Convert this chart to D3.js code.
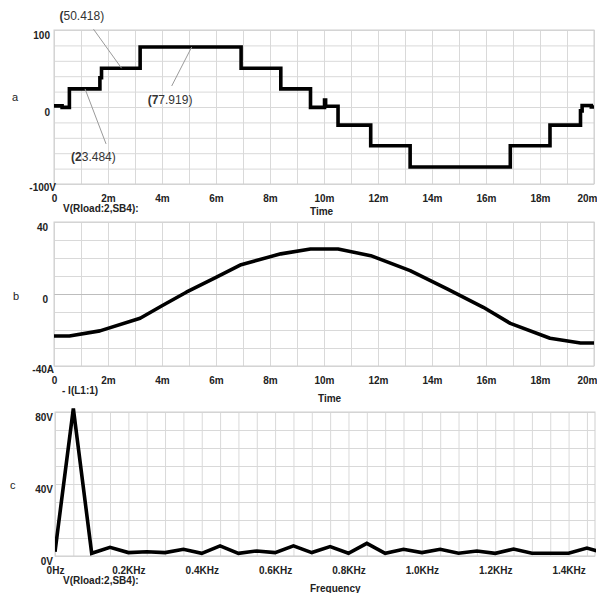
<html><head>
<meta charset="utf-8">
<title>pspice plots</title>
<script src="https://cdn.jsdelivr.net/npm/d3@7/dist/d3.min.js"></script>
<style>
  body { margin: 0; background: #fff; }
  svg { display: block; font-family: "Liberation Sans", Arial, sans-serif; }
  .grid line { stroke: #d9d9d9; stroke-width: 1; }
  .grid path { stroke: none; }
  .frame { fill: none; stroke: #cfcfcf; stroke-width: 1; }
  .tick-lbl text { font-size: 10px; font-weight: bold; fill: #222; }
  .tick-lbl path, .tick-lbl line { stroke: none; }
  .trace { fill: none; stroke: #000; stroke-width: 3.6; }
  .axis-name { font-size: 10px; font-weight: bold; fill: #222; }
  .panel-id { font-size: 11px; fill: #222; }
  .leader { stroke: #9a9a9a; stroke-width: 1; }
  .annot { font-size: 12px; fill: #333; }
</style>
</head>
<body>
<svg id="chart" width="597" height="593"></svg>

<script>
// ---- data ----

// (a) inverter output voltage, staircase (time in ms, volts)
var stepTimes = [0, 0.30, 0.57, 1.70, 1.76, 3.19, 6.93, 8.40, 9.50, 10.02, 10.06, 10.52, 11.73, 13.19, 16.90, 18.37, 19.50, 19.56, 19.90, 20];
var stepVolts = [1.5, -0.5, 23.484, 38, 50.418, 77.919, 50.418, 23.484, -0.5, 9, 1, -23.484, -50.418, -77.919, -50.418, -23.484, -5, 2, 0, 0];

// labelled levels on plot (a)
var annotValues = [50.418, 77.919, 23.484];
var annotTimes = [2.5, 5.1, 1.15];

// (b) load current (time in ms, amps)
var curTimes = [0, 0.57, 1.70, 3.19, 4.0, 4.9, 6.0, 6.93, 8.40, 9.50, 10.52, 11.73, 13.19, 14.56, 15.9, 16.90, 18.37, 19.50, 20];
var curAmps  = [-23.3, -23.3, -20.5, -13.5, -6.5, 1, 9.2, 16.3, 22.3, 25, 25, 21.3, 13, 2.8, -7.4, -16.3, -24.6, -27.2, -27.2];

// (c) spectrum of the output voltage (Hz, volts)
var freqs = [0, 50, 100, 150, 200, 250, 300, 350, 400, 450, 500, 550, 600, 650, 700, 750,
             800, 850, 900, 950, 1000, 1050, 1100, 1150, 1200, 1250, 1300, 1350, 1400, 1450, 1500];
var amps  = [2.4, 82, 1.5, 4.8, 1.9, 2.4, 1.9, 3.7, 1.5, 5.6, 1.5, 2.8, 1.9, 5.6, 1.9, 5.2,
             1.5, 7, 1.5, 3.7, 1.9, 3.7, 1.5, 2.8, 1.5, 3.9, 1.5, 1.5, 1.5, 4.4, 1.5];

// tick labels
var timeTicks = [0, 2, 4, 6, 8, 10, 12, 14, 16, 18, 20];
var freqTicks = [0, 200, 400, 600, 800, 1000, 1200, 1400];
var voltTicksA = [100, 0, -100];
var ampTicksB = [40, 0, -40];
var voltTicksC = [80, 40, 0];

// ---- layout ----
var svg = d3.select("#chart");

var xTime = d3.scaleLinear().domain([0, 20]).range([54, 594]);
var xFreq = d3.scaleLinear().domain([0, 1472]).range([55, 595]);

var panels = [
  { id: "a", x: xTime, y: d3.scaleLinear().domain([-100, 100]).range([184, 30]),
    xGrid: d3.range(0, 21, 1), yGrid: d3.range(-100, 101, 20),
    xTicks: timeTicks, xFmt: function(d) { return d === 0 ? "0" : d + "m"; },
    yTicks: voltTicksA, unit: "V", numEnd: 50,
    idPos: [12, 101], nameL: "V(Rload:2,SB4):", nameLPos: [63, 212],
    nameR: "Time", nameRPos: [310, 215] },
  { id: "b", x: xTime, y: d3.scaleLinear().domain([-40, 40]).range([366, 222]),
    xGrid: d3.range(0, 21, 1), yGrid: d3.range(-40, 41, 10),
    xTicks: timeTicks, xFmt: function(d) { return d === 0 ? "0" : d + "m"; },
    yTicks: ampTicksB, unit: "A", numEnd: 48,
    idPos: [13, 300], nameL: "- I(L1:1)", nameLPos: [62, 394],
    nameR: "Time", nameRPos: [318, 402] },
  { id: "c", x: xFreq, y: d3.scaleLinear().domain([0, 80]).range([556, 412]),
    xGrid: d3.range(0, 1451, 50), yGrid: d3.range(0, 81, 10),
    xTicks: freqTicks, xFmt: function(d) { return d === 0 ? "0Hz" : d3.format(".1f")(d / 1000) + "KHz"; },
    yTicks: voltTicksC, unit: "V", numEnd: 46, allUnits: true,
    idPos: [10, 489], nameL: "V(Rload:2,SB4):", nameLPos: [63, 584],
    nameR: "Frequency", nameRPos: [310, 592] }
];

panels.forEach(function(p) {
  var g = svg.append("g");
  var x0 = p.x.range()[0], x1 = p.x.range()[1];
  var yb = p.y.range()[0], yt = p.y.range()[1];

  // grid
  var vg = g.append("g").attr("class", "grid").attr("transform", "translate(0," + yb + ")");
  d3.axisBottom(p.x).tickValues(p.xGrid).tickSize(-(yb - yt)).tickFormat("")(vg);
  var hg = g.append("g").attr("class", "grid").attr("transform", "translate(" + x0 + ",0)");
  d3.axisLeft(p.y).tickValues(p.yGrid).tickSize(-(x1 - x0)).tickFormat("")(hg);
  if (p.id === "b") {
    hg.selectAll(".tick line").filter(function(d) { return d === 0; }).style("stroke", "#bdbdbd");
  }
  g.append("rect").attr("class", "frame")
    .attr("x", x0).attr("y", yt).attr("width", x1 - x0).attr("height", yb - yt);

  // x tick labels
  var xl = g.append("g").attr("class", "tick-lbl").attr("transform", "translate(0," + yb + ")");
  d3.axisBottom(p.x).tickValues(p.xTicks).tickSize(0).tickPadding(11).tickFormat(p.xFmt)(xl);
  // keep the last label ("20m") inside the page
  xl.selectAll(".tick text").filter(function(d) { return p.x(d) + 10 > 597; })
    .attr("text-anchor", "end").attr("x", function(d) { return 597 - p.x(d); });

  // y tick labels: number right aligned, unit hanging on the bottom one
  var yl = g.append("g").attr("class", "tick-lbl");
  yl.selectAll("text").data(p.yTicks).join("text")
    .attr("x", function(d, i) {
      var hasUnit = p.allUnits || i === p.yTicks.length - 1;
      return p.allUnits ? p.numEnd + 7 : (hasUnit ? p.numEnd + 6 : p.numEnd);
    })
    .attr("y", function(d, i) {
      var last = i === p.yTicks.length - 1 && !p.allUnits;
      return p.y(d) + (last ? 0 : 2);
    })
    .attr("dy", "0.71em")
    .attr("text-anchor", "end")
    .text(function(d, i) {
      var hasUnit = p.allUnits || i === p.yTicks.length - 1;
      return hasUnit ? d + p.unit : d;
    });

  g.append("text").attr("class", "panel-id").attr("x", p.idPos[0]).attr("y", p.idPos[1]).text(p.id);
  g.append("text").attr("class", "axis-name").attr("x", p.nameLPos[0]).attr("y", p.nameLPos[1]).text(p.nameL);
  g.append("text").attr("class", "axis-name").attr("x", p.nameRPos[0]).attr("y", p.nameRPos[1]).text(p.nameR);

  g.append("clipPath").attr("id", "clip-" + p.id)
    .append("rect").attr("x", x0).attr("y", yt - 6).attr("width", x1 - x0 + 1).attr("height", yb - yt + 12);
  p.g = g;
});

// (a) staircase
var pa = panels[0];
var stepLine = d3.line()
  .x(function(d) { return pa.x(d[0]); })
  .y(function(d) { return pa.y(d[1]); })
  .curve(d3.curveStepAfter);
pa.g.append("path").attr("class", "trace")
  .attr("clip-path", "url(#clip-a)")
  .style("stroke-linejoin", "miter")
  .attr("d", stepLine(d3.zip(stepTimes, stepVolts)));

// annotations on (a)
var annotLayout = [
  { lx: -28, ly: -39, tx: -62, ty: -48 },
  { lx: -20, ly: 39, tx: -44, ty: 57 },
  { lx: 21, ly: 55, tx: -14, ty: 72 }
];
annotValues.forEach(function(v, i) {
  var px = pa.x(annotTimes[i]), py = pa.y(v), L = annotLayout[i];
  pa.g.append("line").attr("class", "leader")
    .attr("x1", px).attr("y1", py).attr("x2", px + L.lx).attr("y2", py + L.ly);
  var s = v.toFixed(3);
  var t = pa.g.append("text").attr("class", "annot").attr("x", px + L.tx).attr("y", py + L.ty);
  if (i === 0) {
    t.append("tspan").style("font-weight", "bold").text("(");
    t.append("tspan").text(s + ")");
  } else {
    t.append("tspan").style("font-weight", "bold").text("(" + s[0]);
    t.append("tspan").text(s.slice(1) + ")");
  }
});

// (b) current
var pb = panels[1];
pb.g.append("path").attr("class", "trace")
  .attr("clip-path", "url(#clip-b)")
  .style("stroke-linejoin", "round")
  .attr("d", d3.line()
    .x(function(d) { return pb.x(d[0]); })
    .y(function(d) { return pb.y(d[1]); })(d3.zip(curTimes, curAmps)));

// (c) spectrum
var pc = panels[2];
pc.g.append("path").attr("class", "trace")
  .attr("clip-path", "url(#clip-c)")
  .style("stroke-linejoin", "miter")
  .attr("d", d3.line()
    .x(function(d) { return pc.x(d[0]); })
    .y(function(d) { return pc.y(d[1]); })(d3.zip(freqs, amps)));
</script>
</body>
</html>
